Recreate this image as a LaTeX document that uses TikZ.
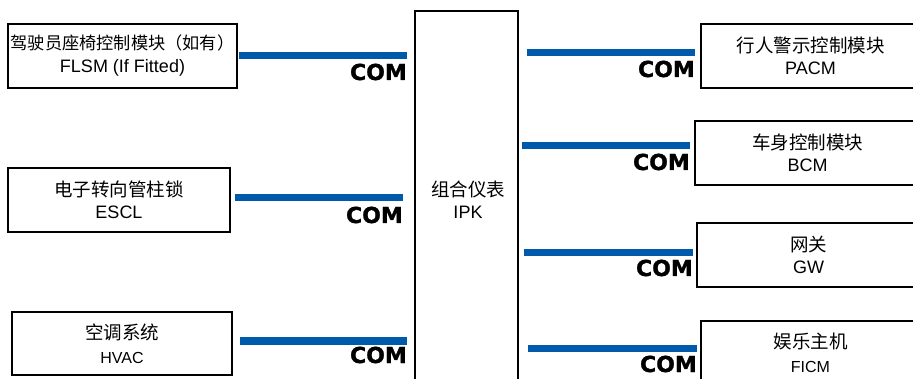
\documentclass[tikz,border=0pt]{standalone}
\usepackage{fontspec}
\setmainfont{Liberation Sans}
\newfontfamily\cjk{Noto Sans CJK SC}
\newfontfamily\comfont[BoldFeatures={FakeBold=1.2}]{DejaVu Sans}
\definecolor{busblue}{HTML}{005AAB}
\tikzset{
  modbox/.style={draw=black, line width=1.3pt, rectangle, inner sep=0pt, align=center,
    font=\fontsize{18.5}{22}\selectfont},
  bus/.style={draw=busblue, line width=7pt},
  comlbl/.style={anchor=base east, inner sep=0pt, font=\comfont\bfseries\fontsize{22}{22}\selectfont},
}
\begin{document}
\begin{tikzpicture}[x=1pt,y=-1pt]
\useasboundingbox (0,0) rectangle (913,379);
\clip (0,0) rectangle (913,379);
% left boxes
\node[modbox, minimum width=229pt, minimum height=64pt] (flsm) at (122.5,56) {{\cjk\fontsize{17.2}{22}\selectfont 驾驶员座椅控制模块（如有）}\\[1pt]{\fontsize{18}{22}\selectfont FLSM (If Fitted)}};
\node[modbox, minimum width=222pt, minimum height=64pt] (escl) at (119,200) {{\cjk 电子转向管柱锁}\\[0pt]{\fontsize{18}{22}\selectfont ESCL}};
\node[modbox, minimum width=220pt, minimum height=63pt] (hvac) at (122,343.5) {{\cjk 空调系统}\\[2pt]{\fontsize{16}{22}\selectfont HVAC}};
% centre
\node[modbox, minimum width=103pt, minimum height=384pt] (ipk) at (466.5,203) {};
\node[align=center, inner sep=0pt, font=\fontsize{18.5}{22}\selectfont] (ipktxt) at (468,200) {{\cjk 组合仪表}\\[0pt]{\fontsize{18}{22}\selectfont IPK}};
% right boxes
\node[modbox, minimum width=219pt, minimum height=64pt] (pacm) at (810.5,56) {{\cjk 行人警示控制模块}\\[0pt]{\fontsize{18}{22}\selectfont PACM}};
\node[modbox, minimum width=225pt, minimum height=64pt] (bcm) at (807.5,153) {{\cjk 车身控制模块}\\[0pt]{\fontsize{18}{22}\selectfont BCM}};
\node[modbox, minimum width=223pt, minimum height=64pt] (gw) at (808.5,255) {{\cjk 网关}\\[0pt]{\fontsize{18}{22}\selectfont GW}};
\node[modbox, minimum width=219pt, minimum height=64pt] (ficm) at (810.5,353) {{\cjk 娱乐主机}\\[2pt]{\fontsize{16}{22}\selectfont FICM}};
% bus line endpoints
\coordinate (l1a) at (239,56);  \coordinate (l1b) at (407,56);
\coordinate (l2a) at (235,198); \coordinate (l2b) at (403,198);
\coordinate (l3a) at (240,341); \coordinate (l3b) at (407,341);
\coordinate (r1a) at (527,53);  \coordinate (r1b) at (695,53);
\coordinate (r2a) at (522,146); \coordinate (r2b) at (690,146);
\coordinate (r3a) at (524,253); \coordinate (r3b) at (693,253);
\coordinate (r4a) at (528,348); \coordinate (r4b) at (697,348);
\draw[bus] (l1a) -- (l1b);
\draw[bus] (l2a) -- (l2b);
\draw[bus] (l3a) -- (l3b);
\draw[bus] (r1a) -- (r1b);
\draw[bus] (r2a) -- (r2b);
\draw[bus] (r3a) -- (r3b);
\draw[bus] (r4a) -- (r4b);
% COM labels
\node[comlbl] (c1) at (407,80) {COM};
\node[comlbl] (c2) at (403,223) {COM};
\node[comlbl] (c3) at (407,363) {COM};
\node[comlbl] (c4) at (695,77) {COM};
\node[comlbl] (c5) at (690,170) {COM};
\node[comlbl] (c6) at (693,276) {COM};
\node[comlbl] (c7) at (697,372) {COM};
\end{tikzpicture}
\end{document}
